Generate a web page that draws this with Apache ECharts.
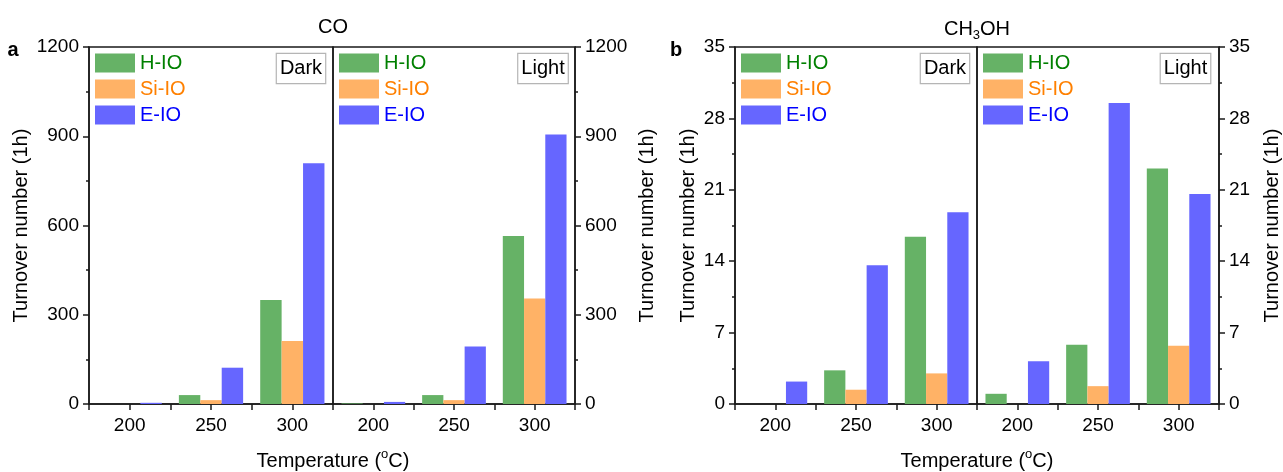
<!DOCTYPE html>
<html>
<head>
<meta charset="utf-8">
<script src="https://cdn.jsdelivr.net/npm/echarts@6/dist/echarts.min.js"></script>
<style>
  html, body { margin: 0; padding: 0; background: #fff; }
  #chart { width: 1283px; height: 472px; }
</style>
</head>
<body>
<div id="chart"></div>
<script>
// Reaction temperatures (°C)
const categories = ['200', '250', '300'];

// CO turnover number after 1 h
const coDarkH  = [0, 30, 350];
const coDarkSi = [0, 13, 212];
const coDarkE  = [4, 122, 809];
const coLightH  = [2, 30, 565];
const coLightSi = [0, 13, 355];
const coLightE  = [7, 193, 906];

// CH3OH turnover number after 1 h
const meDarkH  = [0, 3.3, 16.4];
const meDarkSi = [0, 1.4, 3.0];
const meDarkE  = [2.2, 13.6, 18.8];
const meLightH  = [1.0, 5.8, 23.1];
const meLightSi = [0, 1.75, 5.7];
const meLightE  = [4.2, 29.5, 20.6];

// Axis scales and tick labels
const coTicks = [0, 300, 600, 900, 1200];
const meTicks = [0, 7, 14, 21, 28, 35];

const seriesNames = ['H-IO', 'Si-IO', 'E-IO'];
const barColors  = ['#66b266', '#ffb266', '#6666ff'];
const textColors = ['#008000', '#ff8000', '#0000ff'];

const FONT = 'Liberation Sans, Arial, sans-serif';
const AXIS_COLOR = '#1a1a1a';

const plotTop = 47, plotHeight = 357;
const grids = [
  { left: 89,  width: 244 },  // CO, dark
  { left: 333, width: 242 },  // CO, light
  { left: 735, width: 242 },  // CH3OH, dark
  { left: 977, width: 242 }   // CH3OH, light
];

const panelData = [
  [coDarkH, coDarkSi, coDarkE],
  [coLightH, coLightSi, coLightE],
  [meDarkH, meDarkSi, meDarkE],
  [meLightH, meLightSi, meLightE]
];

const yTitle = 'Turnover number (1h)';

function yAxisFor(i) {
  const isCO = i < 2;
  const ticks = isCO ? coTicks : meTicks;
  const onLeft = (i % 2 === 0);
  const gaps = [58, 62, 37, 43];
  return {
    type: 'value',
    gridIndex: i,
    position: onLeft ? 'left' : 'right',
    min: ticks[0],
    max: ticks[ticks.length - 1],
    interval: ticks[1] - ticks[0],
    name: yTitle,
    nameLocation: 'middle',
    nameGap: gaps[i],
    nameTextStyle: { fontSize: 20, fontFamily: FONT, color: '#000' },
    axisLine: { show: true, lineStyle: { color: AXIS_COLOR, width: 1.5 } },
    axisTick: { show: true, inside: false, length: 6, lineStyle: { color: AXIS_COLOR, width: 1.5 } },
    minorTick: { show: true, splitNumber: 2, length: 3, lineStyle: { color: AXIS_COLOR, width: 1.5 } },
    axisLabel: {
      show: true, fontSize: 19, fontFamily: FONT, color: '#000', margin: 10,
      formatter: v => String(v)
    },
    splitLine: { show: false },
    minorSplitLine: { show: false }
  };
}

const xAxes = [];
const yAxes = [];
const series = [];
const legends = [];
const legendLefts = [95, 339, 741, 983];

grids.forEach((g, i) => {
  // labelled axis with ticks under each temperature
  xAxes.push({
    type: 'category',
    gridIndex: i,
    data: categories,
    position: 'bottom',
    axisLine: { show: true, lineStyle: { color: AXIS_COLOR, width: 1.5 } },
    axisTick: { show: true, alignWithLabel: true, length: 6, lineStyle: { color: AXIS_COLOR, width: 1.5 } },
    axisLabel: { fontSize: 19, fontFamily: FONT, color: '#000', margin: 12 },
    splitLine: { show: false }
  });
  // companion axis carrying the ticks between temperature groups
  xAxes.push({
    type: 'category',
    gridIndex: i,
    data: categories,
    position: 'bottom',
    axisLine: { show: false },
    axisTick: { show: true, alignWithLabel: false, length: 6, lineStyle: { color: AXIS_COLOR, width: 1.5 } },
    axisLabel: { show: false },
    splitLine: { show: false }
  });
  yAxes.push(yAxisFor(i));

  seriesNames.forEach((name, k) => {
    series.push({
      type: 'bar',
      name: name,
      xAxisIndex: i * 2,
      yAxisIndex: i,
      data: panelData[i][k],
      barGap: '0%',
      barCategoryGap: '21%',
      itemStyle: { color: barColors[k] },
      emphasis: { disabled: true },
      animation: false
    });
  });

  legends.push({
    orient: 'vertical',
    left: legendLefts[i],
    top: 53,
    padding: 0,
    itemWidth: 40,
    itemHeight: 19,
    itemGap: 6,
    icon: 'rect',
    selectedMode: false,
    textStyle: { fontSize: 20, fontFamily: FONT },
    data: seriesNames.map((n, k) => ({ name: n, textStyle: { color: textColors[k] } }))
  });
});

function tagBox(text, cx) {
  return {
    type: 'text',
    x: cx,
    y: 68.5,
    style: {
      text: text,
      fontSize: 20,
      fontFamily: FONT,
      fill: '#000',
      align: 'center',
      verticalAlign: 'middle',
      lineHeight: 22,
      padding: [4, 3, 3, 3],
      borderColor: '#b5b5b5',
      borderWidth: 1.2,
      backgroundColor: '#fff'
    },
    z: 10
  };
}

function centerText(text, cx, cy, rich) {
  return {
    type: 'text',
    x: cx,
    y: cy,
    style: {
      text: text,
      fontSize: 20,
      fontFamily: FONT,
      fill: '#000',
      align: 'center',
      verticalAlign: 'middle',
      lineHeight: 26,
      rich: rich || {}
    }
  };
}

const supRich = { s: { fontSize: 13, fontFamily: FONT, fill: '#000', verticalAlign: 'top', lineHeight: 12 } };
const subRich = { d: { fontSize: 13, fontFamily: FONT, fill: '#000', verticalAlign: 'bottom', lineHeight: 12 } };

const graphics = [
  centerText('CO', 333, 27),
  centerText('CH{d|3}OH', 977, 29, subRich),
  centerText('Temperature ({s|o}C)', 333, 461, supRich),
  centerText('Temperature ({s|o}C)', 977, 461, supRich),
  {
    type: 'text', x: 13, y: 50,
    style: { text: 'a', fontSize: 20, fontWeight: 'bold', fontFamily: FONT, fill: '#000', align: 'center', verticalAlign: 'middle' }
  },
  {
    type: 'text', x: 676, y: 50,
    style: { text: 'b', fontSize: 20, fontWeight: 'bold', fontFamily: FONT, fill: '#000', align: 'center', verticalAlign: 'middle' }
  },
  tagBox('Dark', 301),
  tagBox('Light', 543),
  tagBox('Dark', 945),
  tagBox('Light', 1185.5)
];

const chart = echarts.init(document.getElementById('chart'), null, { renderer: 'canvas' });
chart.setOption({
  animation: false,
  backgroundColor: '#fff',
  textStyle: { fontFamily: FONT },
  grid: grids.map(g => ({
    left: g.left, top: plotTop, width: g.width, height: plotHeight,
    show: true, borderColor: AXIS_COLOR, borderWidth: 1.5, backgroundColor: 'transparent',
    containLabel: false
  })),
  xAxis: xAxes,
  yAxis: yAxes,
  legend: legends,
  series: series,
  graphic: graphics
});
</script>
</body>
</html>
